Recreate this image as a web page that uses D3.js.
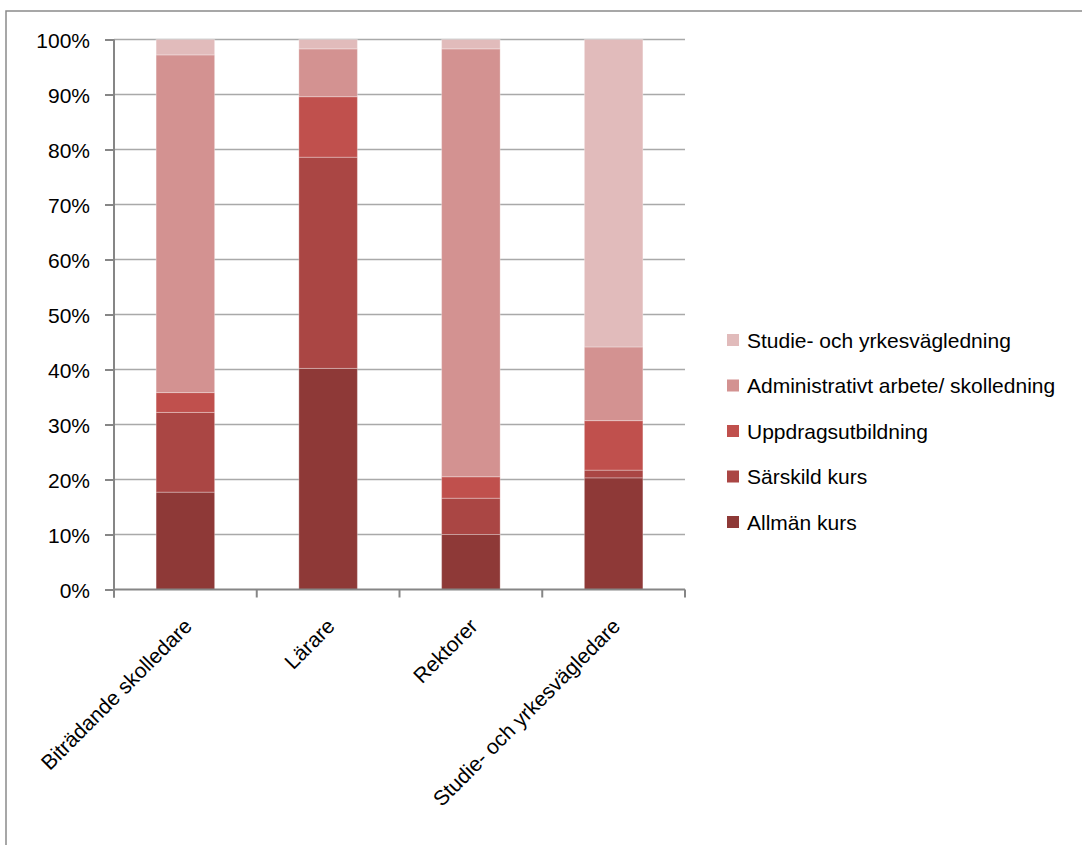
<!DOCTYPE html>
<html>
<head>
<meta charset="utf-8">
<script src="https://cdn.jsdelivr.net/npm/d3@7"></script>
<style>
  body { margin: 0; background: #fff; }
  svg { display: block; font-family: "Liberation Sans", Arial, sans-serif; }
</style>
</head>
<body>
<div id="chart"></div>
<script>
// data (percent of each group)
var groups = ["Biträdande skolledare", "Lärare", "Rektorer", "Studie- och yrkesvägledare"];
var series = ["Allmän kurs", "Särskild kurs", "Uppdragsutbildning", "Administrativt arbete/ skolledning", "Studie- och yrkesvägledning"];
var allman = [17.7, 40.2, 10.0, 20.3];
var sarskild = [14.5, 38.4, 6.6, 1.4];
var uppdrag = [3.6, 11.0, 3.9, 9.0];
var admin = [61.4, 8.7, 77.8, 13.4];
var studie = [2.8, 1.7, 1.7, 55.9];
var colors = ["#8e3937", "#aa4644", "#c0504d", "#d39291", "#e1bbbb"];
var yTicks = [0, 10, 20, 30, 40, 50, 60, 70, 80, 90, 100];

var values = [allman, sarskild, uppdrag, admin, studie];
var rows = groups.map(function(g, i) {
  var r = { group: g };
  series.forEach(function(s, j) { r[s] = values[j][i]; });
  return r;
});

var W = 1082, H = 845;
var margin = { left: 114, right: 397, top: 39.5, bottom: 255.5 };
var width = W - margin.left - margin.right;
var height = H - margin.top - margin.bottom;

var svg = d3.select("#chart").append("svg")
  .attr("width", W)
  .attr("height", H);

// outer frame
svg.append("rect")
  .attr("x", 6).attr("y", 11)
  .attr("width", W + 20).attr("height", H + 20)
  .attr("fill", "none")
  .attr("stroke", "#8a8a8a")
  .attr("stroke-width", 1.5);

var g = svg.append("g")
  .attr("transform", "translate(" + margin.left + "," + margin.top + ")");

var x = d3.scaleBand().domain(groups).range([0, width]).padding(0);
var y = d3.scaleLinear().domain([0, 100]).range([height, 0]);

// gridlines
g.append("g").selectAll("line")
  .data(yTicks.slice(1))
  .join("line")
  .attr("x1", 0).attr("x2", width)
  .attr("y1", d => y(d)).attr("y2", d => y(d))
  .attr("stroke", "#a9a9a9")
  .attr("stroke-width", 1.6);

var stacked = d3.stack().keys(series)(rows);
var barW = x.bandwidth() * 0.41;

g.append("g").selectAll("g")
  .data(stacked)
  .join("g")
  .attr("fill", (d, i) => colors[i])
  .selectAll("rect")
  .data(d => d)
  .join("rect")
  .attr("x", d => x(d.data.group) + (x.bandwidth() - barW) / 2)
  .attr("y", d => y(d[1]))
  .attr("width", barW)
  .attr("height", d => y(d[0]) - y(d[1]))
  .attr("stroke", "rgba(255,255,255,0.3)")
  .attr("stroke-width", 1);

// y axis
var yAxis = d3.axisLeft(y)
  .tickValues(yTicks)
  .tickSize(9)
  .tickPadding(15)
  .tickFormat(d => d + "%");
var ya = g.append("g").call(yAxis);
ya.select(".domain").remove();
ya.append("line")
  .attr("x1", 0).attr("x2", 0)
  .attr("y1", 0).attr("y2", height + 8)
  .attr("stroke", "#868686").attr("stroke-width", 2);
ya.selectAll(".tick line").attr("stroke", "#868686").attr("stroke-width", 2);
ya.selectAll(".tick text")
  .attr("fill", "#000")
  .attr("dy", "0.4em")
  .style("font-size", "21px");

// x axis
var xa = g.append("g").attr("transform", "translate(0," + height + ")");
xa.append("line")
  .attr("x1", 0).attr("x2", width)
  .attr("stroke", "#868686").attr("stroke-width", 2);
xa.selectAll(".tk")
  .data(d3.range(groups.length + 1))
  .join("line")
  .attr("class", "tk")
  .attr("x1", d => d * x.step()).attr("x2", d => d * x.step())
  .attr("y1", 0).attr("y2", 8)
  .attr("stroke", "#868686").attr("stroke-width", 2);
xa.selectAll(".lbl")
  .data(groups)
  .join("text")
  .attr("class", "lbl")
  .attr("text-anchor", "end")
  .attr("transform", d => "translate(" + (x(d) + x.bandwidth() / 2 + 8) + ",38) rotate(-45)")
  .style("font-size", "21px")
  .attr("fill", "#000")
  .text(d => d);

// legend, top entry is the top segment
var legend = svg.append("g").attr("transform", "translate(727,340)");
var items = series.slice().reverse();
var li = legend.selectAll("g")
  .data(items)
  .join("g")
  .attr("transform", (d, i) => "translate(0," + i * 45.5 + ")");
li.append("rect")
  .attr("x", 0).attr("y", -6)
  .attr("width", 12).attr("height", 12)
  .attr("fill", d => colors[series.indexOf(d)]);
li.append("text")
  .attr("x", 20).attr("y", 0)
  .attr("dy", "0.36em")
  .style("font-size", "21px")
  .attr("fill", "#000")
  .text(d => d);
</script>
</body>
</html>
